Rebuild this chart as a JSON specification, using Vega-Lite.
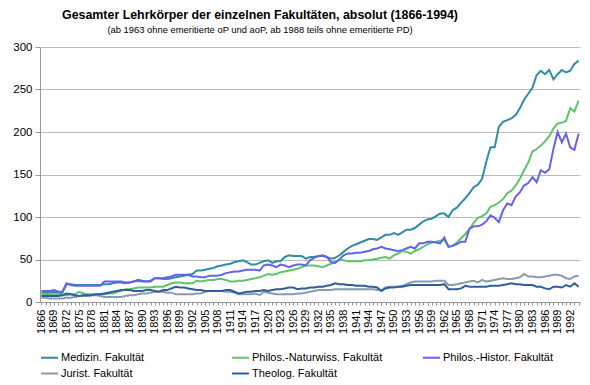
{
  "$schema": "https://vega.github.io/schema/vega-lite/v6.json",
  "width": 540,
  "height": 255,
  "autosize": {"type": "none"},
  "padding": {"left": 40, "top": 47, "right": 10, "bottom": 83},
  "background": "white",
  "title": {
    "text": "Gesamter Lehrkörper der einzelnen Fakultäten, absolut (1866-1994)",
    "subtitle": "(ab 1963 ohne emeritierte oP und aoP, ab 1988 teils ohne emeritierte PD)",
    "anchor": "middle",
    "dx": -50,
    "offset": 7,
    "font": "Liberation Sans",
    "fontSize": 12.4,
    "fontWeight": "bold",
    "color": "#000000",
    "subtitleFont": "Liberation Sans",
    "subtitleFontSize": 9.4,
    "subtitleColor": "#000000",
    "subtitlePadding": 4
  },
  "data": {
    "values": [
      {"year": 1866, "M": 11, "N": 9, "H": 13, "J": 5, "T": 7},
      {"year": 1867, "M": 11, "N": 9, "H": 13, "J": 5, "T": 7},
      {"year": 1868, "M": 11, "N": 9, "H": 13, "J": 4, "T": 7},
      {"year": 1869, "M": 12, "N": 9, "H": 14, "J": 4, "T": 7},
      {"year": 1870, "M": 11, "N": 9, "H": 12, "J": 4, "T": 7},
      {"year": 1871, "M": 11, "N": 8, "H": 12, "J": 4, "T": 8},
      {"year": 1872, "M": 21, "N": 8, "H": 22, "J": 5, "T": 10},
      {"year": 1873, "M": 21, "N": 9, "H": 20, "J": 5, "T": 9},
      {"year": 1874, "M": 20, "N": 9, "H": 19, "J": 6, "T": 8},
      {"year": 1875, "M": 20, "N": 12, "H": 19, "J": 7, "T": 7},
      {"year": 1876, "M": 20, "N": 10, "H": 19, "J": 7, "T": 8},
      {"year": 1877, "M": 20, "N": 9, "H": 19, "J": 7, "T": 8},
      {"year": 1878, "M": 20, "N": 9, "H": 19, "J": 8, "T": 8},
      {"year": 1879, "M": 20, "N": 9, "H": 19, "J": 8, "T": 9},
      {"year": 1880, "M": 20, "N": 9, "H": 19, "J": 7, "T": 9},
      {"year": 1881, "M": 21, "N": 9, "H": 24, "J": 6, "T": 10},
      {"year": 1882, "M": 21, "N": 10, "H": 24, "J": 6, "T": 11},
      {"year": 1883, "M": 22, "N": 10, "H": 24, "J": 6, "T": 12},
      {"year": 1884, "M": 23, "N": 12, "H": 24, "J": 6, "T": 13},
      {"year": 1885, "M": 23, "N": 13, "H": 24, "J": 6, "T": 14},
      {"year": 1886, "M": 22, "N": 15, "H": 23, "J": 7, "T": 14},
      {"year": 1887, "M": 23, "N": 15, "H": 23, "J": 8, "T": 14},
      {"year": 1888, "M": 24, "N": 16, "H": 24, "J": 8, "T": 13},
      {"year": 1889, "M": 26, "N": 17, "H": 25, "J": 9, "T": 13},
      {"year": 1890, "M": 25, "N": 17, "H": 24, "J": 10, "T": 13},
      {"year": 1891, "M": 24, "N": 17, "H": 24, "J": 10, "T": 14},
      {"year": 1892, "M": 25, "N": 17, "H": 24, "J": 11, "T": 14},
      {"year": 1893, "M": 28, "N": 18, "H": 28, "J": 12, "T": 13},
      {"year": 1894, "M": 28, "N": 18, "H": 28, "J": 12, "T": 12},
      {"year": 1895, "M": 27, "N": 18, "H": 28, "J": 12, "T": 14},
      {"year": 1896, "M": 27, "N": 20, "H": 29, "J": 11, "T": 14},
      {"year": 1897, "M": 28, "N": 22, "H": 30, "J": 11, "T": 16},
      {"year": 1898, "M": 29, "N": 23, "H": 32, "J": 9, "T": 18},
      {"year": 1899, "M": 30, "N": 23, "H": 32, "J": 9, "T": 17},
      {"year": 1900, "M": 31, "N": 22, "H": 32, "J": 9, "T": 17},
      {"year": 1901, "M": 32, "N": 22, "H": 32, "J": 9, "T": 16},
      {"year": 1902, "M": 33, "N": 22, "H": 30, "J": 9, "T": 15},
      {"year": 1903, "M": 37, "N": 25, "H": 30, "J": 10, "T": 14},
      {"year": 1904, "M": 37, "N": 24, "H": 29, "J": 10, "T": 14},
      {"year": 1905, "M": 38, "N": 25, "H": 29, "J": 12, "T": 13},
      {"year": 1906, "M": 39, "N": 26, "H": 31, "J": 13, "T": 13},
      {"year": 1907, "M": 40, "N": 26, "H": 31, "J": 13, "T": 13},
      {"year": 1908, "M": 42, "N": 27, "H": 31, "J": 13, "T": 13},
      {"year": 1909, "M": 43, "N": 27, "H": 32, "J": 13, "T": 13},
      {"year": 1910, "M": 44, "N": 26, "H": 34, "J": 12, "T": 14},
      {"year": 1911, "M": 45, "N": 24, "H": 35, "J": 12, "T": 14},
      {"year": 1912, "M": 47, "N": 24, "H": 36, "J": 11, "T": 12},
      {"year": 1913, "M": 48, "N": 25, "H": 36, "J": 9, "T": 10},
      {"year": 1914, "M": 49, "N": 25, "H": 37, "J": 9, "T": 11},
      {"year": 1915, "M": 47, "N": 26, "H": 38, "J": 9, "T": 12},
      {"year": 1916, "M": 44, "N": 27, "H": 38, "J": 9, "T": 12},
      {"year": 1917, "M": 44, "N": 28, "H": 38, "J": 10, "T": 13},
      {"year": 1918, "M": 46, "N": 29, "H": 37, "J": 8, "T": 13},
      {"year": 1919, "M": 48, "N": 31, "H": 43, "J": 12, "T": 14},
      {"year": 1920, "M": 49, "N": 33, "H": 44, "J": 11, "T": 13},
      {"year": 1921, "M": 46, "N": 32, "H": 43, "J": 10, "T": 14},
      {"year": 1922, "M": 48, "N": 33, "H": 41, "J": 9, "T": 15},
      {"year": 1923, "M": 48, "N": 35, "H": 44, "J": 9, "T": 15},
      {"year": 1924, "M": 53, "N": 36, "H": 43, "J": 9, "T": 16},
      {"year": 1925, "M": 55, "N": 37, "H": 41, "J": 9, "T": 17},
      {"year": 1926, "M": 54, "N": 38, "H": 43, "J": 9, "T": 17},
      {"year": 1927, "M": 54, "N": 39, "H": 44, "J": 10, "T": 15},
      {"year": 1928, "M": 54, "N": 41, "H": 44, "J": 10, "T": 16},
      {"year": 1929, "M": 51, "N": 43, "H": 43, "J": 11, "T": 16},
      {"year": 1930, "M": 53, "N": 43, "H": 49, "J": 12, "T": 17},
      {"year": 1931, "M": 53, "N": 43, "H": 52, "J": 13, "T": 17},
      {"year": 1932, "M": 54, "N": 42, "H": 54, "J": 14, "T": 18},
      {"year": 1933, "M": 54, "N": 41, "H": 55, "J": 14, "T": 18},
      {"year": 1934, "M": 53, "N": 43, "H": 53, "J": 14, "T": 19},
      {"year": 1935, "M": 51, "N": 45, "H": 47, "J": 14, "T": 20},
      {"year": 1936, "M": 52, "N": 47, "H": 46, "J": 15, "T": 22},
      {"year": 1937, "M": 55, "N": 50, "H": 50, "J": 15, "T": 21},
      {"year": 1938, "M": 59, "N": 49, "H": 55, "J": 15, "T": 21},
      {"year": 1939, "M": 63, "N": 48, "H": 57, "J": 15, "T": 20},
      {"year": 1940, "M": 66, "N": 48, "H": 57, "J": 15, "T": 20},
      {"year": 1941, "M": 68, "N": 48, "H": 58, "J": 15, "T": 19},
      {"year": 1942, "M": 70, "N": 48, "H": 58, "J": 15, "T": 19},
      {"year": 1943, "M": 72, "N": 49, "H": 59, "J": 15, "T": 19},
      {"year": 1944, "M": 74, "N": 49, "H": 60, "J": 15, "T": 18},
      {"year": 1945, "M": 74, "N": 50, "H": 62, "J": 15, "T": 18},
      {"year": 1946, "M": 73, "N": 51, "H": 63, "J": 14, "T": 17},
      {"year": 1947, "M": 76, "N": 52, "H": 65, "J": 14, "T": 13},
      {"year": 1948, "M": 79, "N": 53, "H": 63, "J": 17, "T": 16},
      {"year": 1949, "M": 79, "N": 51, "H": 62, "J": 18, "T": 17},
      {"year": 1950, "M": 81, "N": 55, "H": 61, "J": 18, "T": 17},
      {"year": 1951, "M": 79, "N": 57, "H": 60, "J": 18, "T": 18},
      {"year": 1952, "M": 82, "N": 60, "H": 61, "J": 19, "T": 18},
      {"year": 1953, "M": 85, "N": 59, "H": 63, "J": 21, "T": 19},
      {"year": 1954, "M": 85, "N": 57, "H": 65, "J": 23, "T": 20},
      {"year": 1955, "M": 87, "N": 60, "H": 63, "J": 24, "T": 20},
      {"year": 1956, "M": 91, "N": 62, "H": 69, "J": 24, "T": 20},
      {"year": 1957, "M": 95, "N": 65, "H": 69, "J": 24, "T": 20},
      {"year": 1958, "M": 97, "N": 68, "H": 71, "J": 24, "T": 20},
      {"year": 1959, "M": 98, "N": 70, "H": 71, "J": 24, "T": 20},
      {"year": 1960, "M": 101, "N": 71, "H": 70, "J": 25, "T": 20},
      {"year": 1961, "M": 104, "N": 72, "H": 69, "J": 25, "T": 20},
      {"year": 1962, "M": 104, "N": 73, "H": 76, "J": 25, "T": 21},
      {"year": 1963, "M": 100, "N": 65, "H": 65, "J": 20, "T": 15},
      {"year": 1964, "M": 108, "N": 66, "H": 66, "J": 20, "T": 15},
      {"year": 1965, "M": 111, "N": 70, "H": 68, "J": 21, "T": 15},
      {"year": 1966, "M": 117, "N": 75, "H": 71, "J": 22, "T": 16},
      {"year": 1967, "M": 122, "N": 80, "H": 71, "J": 23, "T": 19},
      {"year": 1968, "M": 128, "N": 86, "H": 86, "J": 24, "T": 18},
      {"year": 1969, "M": 135, "N": 93, "H": 89, "J": 25, "T": 18},
      {"year": 1970, "M": 138, "N": 99, "H": 89, "J": 23, "T": 18},
      {"year": 1971, "M": 145, "N": 101, "H": 91, "J": 26, "T": 18},
      {"year": 1972, "M": 165, "N": 104, "H": 95, "J": 24, "T": 18},
      {"year": 1973, "M": 182, "N": 112, "H": 102, "J": 25, "T": 19},
      {"year": 1974, "M": 182, "N": 114, "H": 99, "J": 26, "T": 19},
      {"year": 1975, "M": 206, "N": 117, "H": 94, "J": 27, "T": 19},
      {"year": 1976, "M": 212, "N": 121, "H": 108, "J": 28, "T": 20},
      {"year": 1977, "M": 214, "N": 128, "H": 116, "J": 27, "T": 21},
      {"year": 1978, "M": 216, "N": 131, "H": 114, "J": 27, "T": 22},
      {"year": 1979, "M": 220, "N": 137, "H": 124, "J": 28, "T": 21},
      {"year": 1980, "M": 228, "N": 145, "H": 129, "J": 29, "T": 21},
      {"year": 1981, "M": 238, "N": 155, "H": 137, "J": 33, "T": 20},
      {"year": 1982, "M": 245, "N": 164, "H": 140, "J": 30, "T": 20},
      {"year": 1983, "M": 252, "N": 177, "H": 147, "J": 30, "T": 20},
      {"year": 1984, "M": 267, "N": 180, "H": 141, "J": 29, "T": 18},
      {"year": 1985, "M": 272, "N": 184, "H": 155, "J": 29, "T": 18},
      {"year": 1986, "M": 268, "N": 189, "H": 152, "J": 30, "T": 16},
      {"year": 1987, "M": 273, "N": 195, "H": 156, "J": 31, "T": 15},
      {"year": 1988, "M": 262, "N": 204, "H": 180, "J": 32, "T": 18},
      {"year": 1989, "M": 268, "N": 210, "H": 200, "J": 32, "T": 18},
      {"year": 1990, "M": 273, "N": 211, "H": 188, "J": 31, "T": 17},
      {"year": 1991, "M": 270, "N": 213, "H": 198, "J": 28, "T": 20},
      {"year": 1992, "M": 272, "N": 228, "H": 182, "J": 27, "T": 18},
      {"year": 1993, "M": 280, "N": 224, "H": 179, "J": 30, "T": 22},
      {"year": 1994, "M": 284, "N": 237, "H": 198, "J": 31, "T": 18}
    ]
  },
  "transform": [{"fold": ["M", "N", "H", "J", "T"], "as": ["fak", "n"]}],
  "mark": {"type": "line", "strokeWidth": 2},
  "encoding": {
    "x": {
      "field": "year",
      "type": "quantitative",
      "scale": {"domain": [1865.67, 1994.33], "nice": false, "zero": false},
      "axis": {
        "title": null,
        "values": [1866,1867,1868,1869,1870,1871,1872,1873,1874,1875,1876,1877,1878,1879,1880,1881,1882,1883,1884,1885,1886,1887,1888,1889,1890,1891,1892,1893,1894,1895,1896,1897,1898,1899,1900,1901,1902,1903,1904,1905,1906,1907,1908,1909,1910,1911,1912,1913,1914,1915,1916,1917,1918,1919,1920,1921,1922,1923,1924,1925,1926,1927,1928,1929,1930,1931,1932,1933,1934,1935,1936,1937,1938,1939,1940,1941,1942,1943,1944,1945,1946,1947,1948,1949,1950,1951,1952,1953,1954,1955,1956,1957,1958,1959,1960,1961,1962,1963,1964,1965,1966,1967,1968,1969,1970,1971,1972,1973,1974,1975,1976,1977,1978,1979,1980,1981,1982,1983,1984,1985,1986,1987,1988,1989,1990,1991,1992,1993,1994],
        "labelExpr": "(datum.value - 1866) % 3 == 0 ? '' + datum.value : ''",
        "labelAngle": -90,
        "labelAlign": "right",
        "labelBaseline": "middle",
        "labelFont": "Liberation Sans",
        "labelFontSize": 11,
        "labelColor": "#000000",
        "labelPadding": 4,
        "labelOverlap": false,
        "labelBound": false,
        "labelFlush": false,
        "tickSize": 3,
        "tickColor": "#999999",
        "domainColor": "#999999",
        "grid": false
      }
    },
    "y": {
      "field": "n",
      "type": "quantitative",
      "scale": {"domain": [0, 300], "nice": false},
      "axis": {
        "title": null,
        "values": [0, 50, 100, 150, 200, 250, 300],
        "labelFont": "Liberation Sans",
        "labelFontSize": 11.5,
        "labelColor": "#000000",
        "labelPadding": 3,
        "tickSize": 5,
        "tickColor": "#999999",
        "domainColor": "#999999",
        "grid": true,
        "gridColor": "#bbbbbb"
      }
    },
    "color": {
      "field": "fak",
      "type": "nominal",
      "scale": {
        "domain": ["M", "N", "H", "J", "T"],
        "range": ["#2F8EA6", "#5FC46A", "#6363EE", "#8A9BB0", "#2E5E9C"]
      },
      "legend": {
        "title": null,
        "orient": "none",
        "legendX": 0,
        "legendY": 301,
        "direction": "horizontal",
        "columns": 3,
        "gridAlign": "all",
        "columnPadding": 36,
        "rowPadding": 1,
        "padding": 0,
        "symbolType": "stroke",
        "symbolSize": 289,
        "symbolStrokeWidth": 2,
        "labelOffset": 2,
        "labelFont": "Liberation Sans",
        "labelFontSize": 11,
        "labelColor": "#000000",
        "labelLimit": 300,
        "labelExpr": "datum.label == 'M' ? 'Medizin. Fakultät' : datum.label == 'N' ? 'Philos.-Naturwiss. Fakultät' : datum.label == 'H' ? 'Philos.-Histor. Fakultät' : datum.label == 'J' ? 'Jurist. Fakultät' : 'Theolog. Fakultät'"
      }
    }
  },
  "config": {"view": {"stroke": null}}
}
